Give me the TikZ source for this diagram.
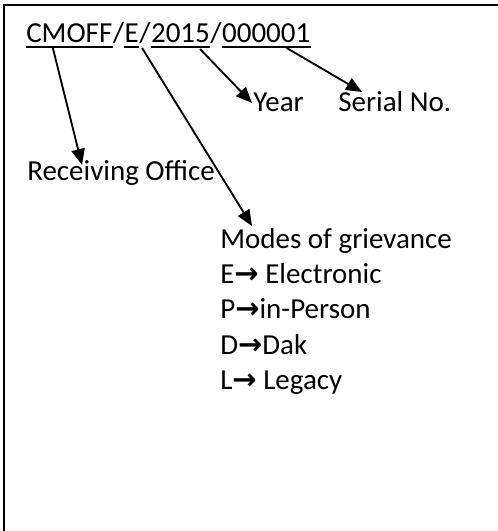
\documentclass[tikz,border=0pt]{standalone}
\usepackage{fontspec}
\setmainfont{Carlito}
\newfontfamily\arrowfont{DejaVu Sans}
\usetikzlibrary{arrows.meta,calc}
\newcommand{\ar}{{\arrowfont\bfseries →}}
\begin{document}
\begin{tikzpicture}[x=0.75pt,y=-0.75pt,
  txt/.style={inner sep=0pt,anchor=base west,font=\fontsize{21.75}{26.5}\selectfont},
  arr/.style={line width=1.4pt,-{Triangle[length=12pt,width=10pt]}},
  ul/.style={line width=1.1pt},
  frame/.style={line width=1.5pt}]
\useasboundingbox (0,0) rectangle (498,531);
\draw[frame] (4,531) -- (4,5) -- (498,5);
% identifier
\node[txt] (cm) at (26,43) {CMOFF};
\node[txt] (s1) at (cm.base east) {/};
\node[txt] (e) at (s1.base east) {E};
\node[txt] (s2) at (e.base east) {/};
\node[txt] (yr) at (s2.base east) {2015};
\node[txt] (s3) at (yr.base east) {/};
\node[txt] (sn) at (s3.base east) {000001};
\foreach \n in {cm,e,yr,sn}
  \draw[ul] ($(\n.base west)+(0,4)$) -- ($(\n.base east)+(0,4)$);
% labels
\node[txt] (ro) at (27,180) {Receiving Office};
\node[txt] (year) at (253,112) {Year};
\node[txt] (serial) at (338,112) {Serial No.};
\node[txt] (modes) at (220,248) {Modes of grievance};
\node[txt] (m1) at (220,283.4) {E\ar\ Electronic};
\node[txt] (m2) at (220,318.8) {P\ar in-Person};
\node[txt] (m3) at (220,354.2) {D\ar Dak};
\node[txt] (m4) at (220,389.6) {L\ar\ Legacy};
% connector ends
\coordinate (cmS) at ($(cm.base west)!0.31!(cm.base east)+(0,5)$);
\coordinate (eS) at ($(e.base east)+(3,5)$);
\coordinate (yrS) at ($(yr.base west)!0.83!(yr.base east)+(0,6)$);
\coordinate (snS) at ($(sn.base west)!0.73!(sn.base east)+(0,5)$);
\coordinate (roT) at ($(ro.base west)+(55,-15)$);
\coordinate (yearT) at ($(year.base west)+(-1,-9)$);
\coordinate (serialT) at ($(serial.base west)+(24,-20)$);
\coordinate (modesT) at ($(modes.base west)+(32,-22)$);
\draw[arr] (cmS) -- (roT);
\draw[arr] (eS) -- (modesT);
\draw[arr] (yrS) -- (yearT);
\draw[arr] (snS) -- (serialT);
\end{tikzpicture}
\end{document}
